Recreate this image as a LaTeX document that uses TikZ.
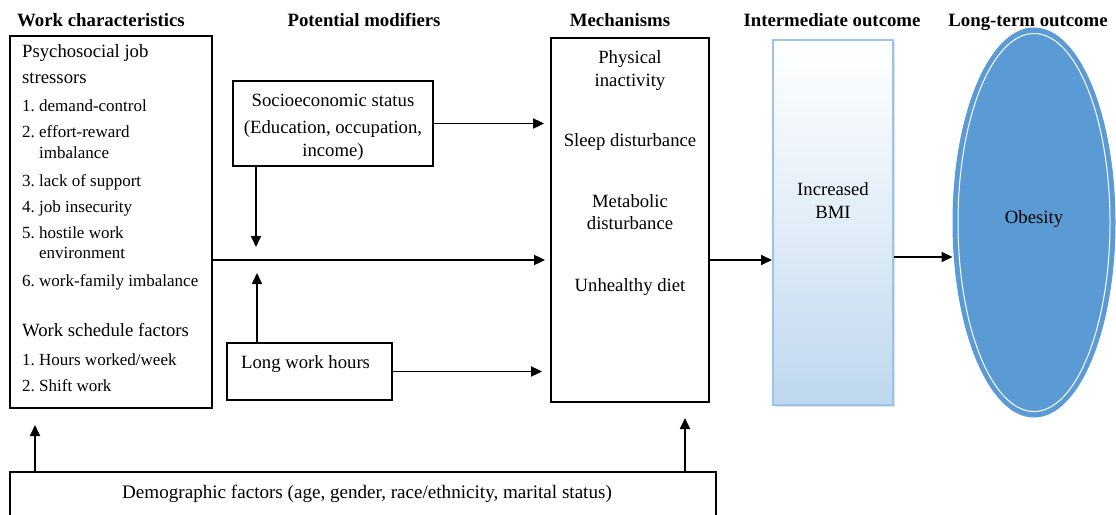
\documentclass[tikz,border=0pt]{standalone}
\usepackage{fontspec}
\setmainfont{Liberation Serif}
\usetikzlibrary{arrows.meta,shadows,shapes.geometric}
\definecolor{bmiedge}{HTML}{9DC3E6}
\definecolor{bmibot}{HTML}{BDD7EE}
\definecolor{obes}{HTML}{5B9BD5}
\begin{document}
\frenchspacing
\begin{tikzpicture}[x=1pt,y=-1pt,
 font=\fontsize{18.7}{22}\selectfont,
 box/.style={draw, line width=1.8pt, inner sep=0pt},
 arr/.style={-{Triangle[length=11pt,width=10pt]}, line width=1.8pt},
 hd/.style={font=\fontsize{18.8}{22}\selectfont\bfseries, anchor=base, inner sep=0pt},
 txt/.style={anchor=base west, inner sep=0pt},
 item/.style={anchor=base west, inner sep=0pt, font=\fontsize{17}{20}\selectfont},
 ctr/.style={anchor=base, inner sep=0pt}]
\useasboundingbox (0,0) rectangle (1116,514);
\clip (0,0) rectangle (1116,514);
\fill[white] (0,0) rectangle (1116,514);

% headers
\node[hd] (h1) at (101,27) {Work characteristics};
\node[hd] (h2) at (364,27) {Potential modifiers};
\node[hd] (h3) at (620,27) {Mechanisms};
\node[hd] (h4) at (832,27) {Intermediate outcome};
\node[hd] (h5) at (1028,27) {Long-term outcome};

% boxes
\node[box, minimum width=202pt, minimum height=372pt] (wc) at (111,222) {};
\node[box, minimum width=200pt, minimum height=85pt] (ses) at (333,123.5) {};
\node[box, minimum width=165pt, minimum height=57pt] (lwh) at (309.5,371.5) {};
\node[box, minimum width=158pt, minimum height=364pt] (mech) at (630,220) {};
\node[draw=bmiedge, line width=2pt, minimum width=120pt, minimum height=365pt,
  top color=white, bottom color=bmibot, middle color=white!55!bmibot,
  drop shadow={shadow xshift=2pt, shadow yshift=-2pt, opacity=0.25}] (bmi) at (833,222.5) {};
\node[ellipse, draw=obes, fill=obes, line width=1pt, minimum width=162pt, minimum height=389pt, inner sep=0pt] (ob) at (1034,222.5) {};
\draw[white, line width=1pt] (ob.center) ellipse [x radius=76pt, y radius=189pt];
\node[box, minimum width=706pt, minimum height=60pt] (demo) at (363,502) {};

% left box text
\node[txt] (t1) at (22,57) {Psychosocial job};
\node[txt] (t2) at (22,83) {stressors};
\node[item] (t3) at (22,111) {1. demand-control};
\node[item] (t4) at (22,137) {2. effort-reward};
\node[item] (t4b) at (39,158) {imbalance};
\node[item] (t5) at (22,186) {3. lack of support};
\node[item] (t6) at (22,212) {4. job insecurity};
\node[item] (t7) at (22,238) {5. hostile work};
\node[item] (t7b) at (39,258) {environment};
\node[item] (t8) at (22,286) {6. work-family imbalance};
\node[txt] (t9) at (22,336) {Work schedule factors};
\node[item] (t10) at (22,365) {1. Hours worked/week};
\node[item] (t11) at (22,391) {2. Shift work};

% SES text
\node[ctr] (s1) at (333,106) {Socioeconomic status};
\node[ctr] (s2) at (333,133) {(Education, occupation,};
\node[ctr] (s3) at (333,156) {income)};

% LWH text
\node[txt] (l1) at (241,368) {Long work hours};

% mechanisms text
\node[ctr] (m1) at (630,63) {Physical};
\node[ctr] (m2) at (630,86) {inactivity};
\node[ctr] (m3) at (630,146) {Sleep disturbance};
\node[ctr] (m4) at (630,207) {Metabolic};
\node[ctr] (m5) at (630,229) {disturbance};
\node[ctr] (m6) at (630,291) {Unhealthy diet};

% BMI and obesity text
\node[ctr] (b1) at (833,195) {Increased};
\node[ctr] (b2) at (833,218) {BMI};
\node[ctr] (o1) at (1034,223) {Obesity};

% demographic text
\node[ctr, font=\fontsize{19.1}{22}\selectfont] (d1) at (367,498) {Demographic factors (age, gender, race/ethnicity, marital status)};

% coordinates
\coordinate (mainy) at (0,260);
\coordinate (sesdown) at (256,247);
\coordinate (lwhup) at (257,273);
\coordinate (dl) at (35,425);
\coordinate (dr) at (685,418);
\coordinate (oby) at (0,257);

% connectors
\draw[arr, shorten >=6pt] (ses.east) -- (mech.west |- ses.east);
\draw[arr] (ses.south -| sesdown) -- (sesdown);
\draw[arr, shorten >=5pt] (wc.east |- mainy) -- (mech.west |- mainy);
\draw[arr] (lwh.north -| lwhup) -- (lwhup);
\draw[arr, shorten >=8pt] (lwh.east) -- (mech.west |- lwh.east);
\draw[arr] (mech.east |- mainy) -- (bmi.west |- mainy);
\draw[arr] (bmi.east |- oby) -- (ob.west |- oby);
\draw[arr] (demo.north -| dl) -- (dl);
\draw[arr] (demo.north -| dr) -- (dr);
\end{tikzpicture}
\end{document}
